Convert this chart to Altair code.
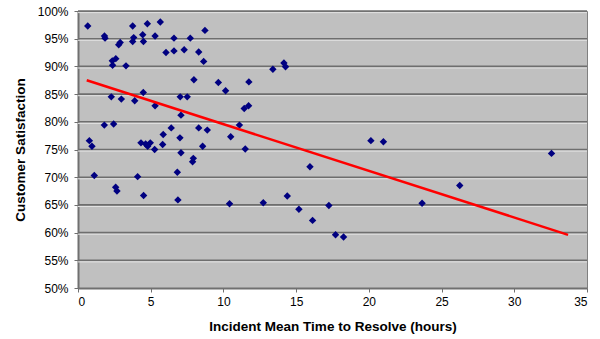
import altair as alt
import pandas as pd

# Incident mean time to resolve (hours)
hours = [0.67, 0.78, 0.96, 1.82, 1.86, 2.9, 2.8, 2.36, 2.6, 2.38, 3.3, 1.81, 2.45,
         2.29, 2.98, 3.9, 3.76, 3.76, 3.83, 4.45, 4.5, 4.77, 4.49, 5.3, 5.66, 5.3,
         4.33, 4.65, 4.79, 4.97, 5.27, 5.86, 5.82, 6.41, 6.05, 6.6, 6.6, 7.3, 7.72,
         8.3, 7.97, 7.03, 7.51, 7.08, 7.01, 7.08, 7.93, 7.88, 8.3, 8.73, 8.64, 13.4,
         14.16, 14.27, 9.65, 11.75, 10.15, 11.43, 11.73, 8.89, 11.1, 10.5, 8.57, 11.5,
         15.95, 20.14, 21.0, 32.56, 26.25, 23.66, 1.12, 2.59, 2.68, 4.1, 4.51, 6.83,
         6.87, 10.42, 12.74, 14.39, 15.19, 16.13, 17.25, 17.71, 18.26]
# Customer satisfaction (%)
satisfaction = [97.3, 76.6, 75.6, 95.5, 95.1, 94.3, 93.9, 91.0, 91.4, 90.2, 90.1, 79.4, 79.6,
                84.5, 84.1, 83.8, 97.3, 94.5, 95.2, 95.7, 94.5, 97.7, 85.3, 82.9, 98.0, 95.5,
                76.2, 76.0, 75.6, 76.2, 75.0, 77.7, 75.9, 78.9, 92.5, 95.1, 92.8, 93.0, 95.1,
                92.6, 87.6, 84.5, 84.5, 81.2, 77.1, 74.4, 73.4, 72.8, 78.9, 96.5, 90.9, 89.5,
                90.6, 89.95, 87.1, 87.2, 85.6, 82.4, 82.9, 78.5, 79.4, 77.3, 75.6, 75.1,
                71.9, 76.6, 76.4, 74.3, 68.5, 65.3, 70.3, 68.2, 67.5, 70.1, 66.7, 70.9,
                65.9, 65.2, 65.4, 66.6, 64.2, 62.2, 64.9, 59.6, 59.2]

# Linear trend line end points (as drawn)
trend_hours = [0.6, 33.7]
trend_satisfaction = [87.5, 59.6]

x_ticks = [0, 5, 10, 15, 20, 25, 30, 35]
y_ticks = [0.50, 0.55, 0.60, 0.65, 0.70, 0.75, 0.80, 0.85, 0.90, 0.95, 1.00]

pts = pd.DataFrame({"hours": hours, "sat": [v / 100 for v in satisfaction]})
trend = pd.DataFrame({"hours": trend_hours, "sat": [v / 100 for v in trend_satisfaction]})
grid = pd.DataFrame({"sat": y_ticks[1:]})

FONT = "Liberation Sans"

x_axis = alt.Axis(values=x_ticks, title="Incident Mean Time to Resolve (hours)",
                  grid=False, format="d", labelOverlap=False)
y_axis = alt.Axis(values=y_ticks, format=".0%", title="Customer Satisfaction",
                  grid=False, labelOverlap=False, tickCount=11)
x_scale = alt.Scale(domain=[0, 35], nice=False, zero=False)
y_scale = alt.Scale(domain=[0.5, 1.0], nice=False, zero=False)

# gridlines with a light highlight beneath (3D look of the original)
grid_dark = alt.Chart(grid).mark_rule(color="#6E6E6E", strokeWidth=1.6).encode(
    y=alt.Y("sat:Q", scale=y_scale, axis=y_axis))
highlight = alt.Chart(grid).mark_rule(color="#E2E2E2", strokeWidth=1, yOffset=1.6).encode(
    y=alt.Y("sat:Q", scale=y_scale, axis=y_axis))

points = alt.Chart(pts).mark_point(
    shape="diamond", filled=True, color="#000080", size=55, opacity=1
).encode(x=alt.X("hours:Q", scale=x_scale, axis=x_axis),
         y=alt.Y("sat:Q", scale=y_scale, axis=y_axis))

line = alt.Chart(trend).mark_line(color="#FF0000", strokeWidth=2.5).encode(
    x=alt.X("hours:Q", scale=x_scale, axis=x_axis),
    y=alt.Y("sat:Q", scale=y_scale, axis=y_axis))

chart = alt.layer(grid_dark, highlight, points, line).properties(
    width=509, height=277,
    padding={"left": 78, "top": 11, "right": 13, "bottom": 51},
    autosize=alt.AutoSizeParams(type="none"),
    background="white",
).configure_view(
    fill="#C0C0C0", stroke="#808080", strokeWidth=1
).configure_axis(
    labelFont=FONT, titleFont=FONT, labelFontSize=12, titleFontSize=13.5,
    labelColor="black", titleColor="black", titleFontWeight="bold",
    domainColor="#707070", domainWidth=2, tickColor="#707070", tickSize=4,
    labelOverlap=False,
).configure_axisX(
    labelPadding=4, titlePadding=12
).configure_axisY(
    labelPadding=6, titlePadding=10
)

chart.save("out.html", embed_options={"renderer": "svg", "actions": False})
